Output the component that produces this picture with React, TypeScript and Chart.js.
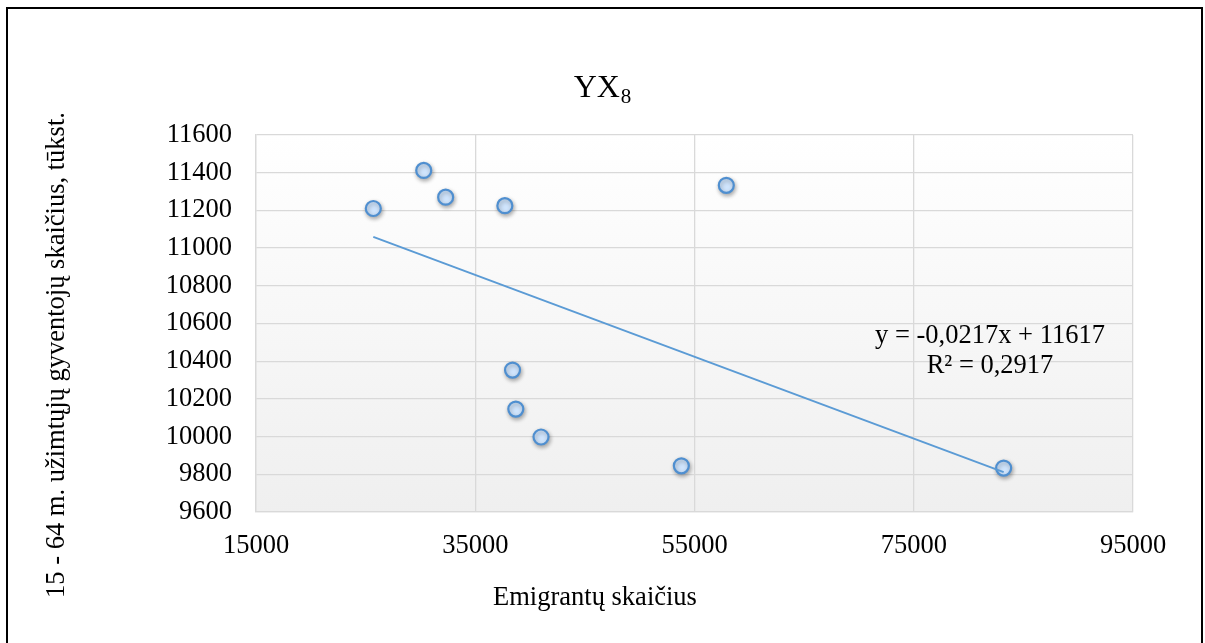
import React, { useEffect, useRef } from "react";
import { Chart, registerables } from "chart.js";

Chart.register(...registerables);

const emigrants = [25700, 30300, 32300, 37700, 57900, 38400, 38700, 41000, 53800, 83200];
const employed = [11210, 11412, 11270, 11225, 11333, 10353, 10146, 9998, 9845, 9833];
const xTicks = [15000, 35000, 55000, 75000, 95000];
const yTicks = [9600, 9800, 10000, 10200, 10400, 10600, 10800, 11000, 11200, 11400, 11600];
const trendSlope = -0.0217;
const trendIntercept = 11617;
const equationLines = ["y = -0,0217x + 11617", "R² = 0,2917"];
const titleMain = "YX";
const titleSub = "8";
const xTitle = "Emigrantų skaičius";
const yTitle = "15 - 64 m. užimtųjų gyventojų skaičius, tūkst.";

const FONT = "'Liberation Serif', 'Times New Roman', serif";

export default function App() {
  const ref = useRef<HTMLCanvasElement | null>(null);

  useEffect(() => {
    if (!ref.current) return;
    const xMin = Math.min(...emigrants);
    const xMax = Math.max(...emigrants);
    const trend = [
      { x: xMin, y: trendSlope * xMin + trendIntercept },
      { x: xMax, y: trendSlope * xMax + trendIntercept },
    ];
    const points = emigrants.map((x, i) => ({ x, y: employed[i] }));

    const bgPlugin = {
      id: "bgPlugin",
      beforeDraw(chart: any) {
        const { ctx, chartArea: a } = chart;
        const g = ctx.createLinearGradient(0, a.top, 0, a.bottom);
        g.addColorStop(0, "#ffffff");
        g.addColorStop(1, "#efefef");
        ctx.save();
        ctx.fillStyle = g;
        ctx.fillRect(a.left, a.top, a.right - a.left, a.bottom - a.top);
        ctx.restore();
      },
      beforeDatasetDraw(chart: any, args: any) {
        if (args.index === 1) {
          const ctx = chart.ctx;
          ctx.save();
          ctx.shadowColor = "rgba(0,0,0,0.3)";
          ctx.shadowBlur = 4;
          ctx.shadowOffsetX = 1;
          ctx.shadowOffsetY = 2;
        }
      },
      afterDatasetDraw(chart: any, args: any) {
        if (args.index === 1) chart.ctx.restore();
      },
      afterDraw(chart: any) {
        const ctx = chart.ctx;
        ctx.save();
        ctx.fillStyle = "#000000";
        ctx.textBaseline = "alphabetic";
        ctx.font = `32px ${FONT}`;
        const wMain = ctx.measureText(titleMain).width;
        ctx.font = `21px ${FONT}`;
        const wSub = ctx.measureText(titleSub).width;
        const startX = 594 - (wMain + wSub) / 2;
        ctx.textAlign = "left";
        ctx.font = `32px ${FONT}`;
        ctx.fillText(titleMain, startX, 88);
        ctx.font = `21px ${FONT}`;
        ctx.fillText(titleSub, startX + wMain + 1, 94);
        ctx.font = `26.5px ${FONT}`;
        ctx.textAlign = "center";
        ctx.textBaseline = "middle";
        ctx.fillText(xTitle, 587, 589);
        ctx.save();
        ctx.translate(49, 346);
        ctx.rotate(-Math.PI / 2);
        ctx.fillText(yTitle, 0, 0);
        ctx.restore();
        ctx.textBaseline = "alphabetic";
        ctx.fillText(equationLines[0], 982, 334);
        ctx.fillText(equationLines[1], 982, 364);
        ctx.restore();
      },
    };

    const chart = new Chart(ref.current, {
      type: "scatter",
      data: {
        datasets: [
          {
            type: "line",
            label: "Trend",
            data: trend,
            borderColor: "#5b9bd5",
            borderWidth: 2,
            pointRadius: 0,
            fill: false,
          } as any,
          {
            label: "Data",
            data: points,
            backgroundColor: "#cfe4fc",
            borderColor: "#4f8fd0",
            borderWidth: 2.2,
            pointRadius: 7.5,
            pointHoverRadius: 7.5,
          },
        ],
      },
      options: {
        animation: false,
        responsive: false,
        maintainAspectRatio: false,
        layout: { padding: { left: 0, top: 126, right: 68, bottom: 0 } },
        plugins: {
          legend: { display: false },
          tooltip: { enabled: false },
          title: { display: false },
        },
        scales: {
          x: {
            type: "linear",
            min: 15000,
            max: 95000,
            afterBuildTicks(scale: any) {
              scale.ticks = xTicks.map((v) => ({ value: v }));
            },
            afterFit(scale: any) {
              scale.height = 137;
            },
            ticks: {
              font: { family: FONT, size: 26.5 },
              color: "#000000",
              padding: 18,
              maxRotation: 0,
              autoSkip: false,
              callback: (v: any) => String(v),
            },
            grid: { color: "#d9d9d9", lineWidth: 1.3, drawTicks: false },
            border: { display: true, color: "#d9d9d9", width: 1.3 },
          },
          y: {
            type: "linear",
            min: 9600,
            max: 11600,
            afterBuildTicks(scale: any) {
              scale.ticks = yTicks.map((v) => ({ value: v }));
            },
            afterFit(scale: any) {
              scale.width = 248;
            },
            ticks: {
              font: { family: FONT, size: 26.5 },
              color: "#000000",
              padding: 24,
              autoSkip: false,
              callback: (v: any) => String(v),
            },
            grid: { color: "#d9d9d9", lineWidth: 1.3, drawTicks: false },
            border: { display: true, color: "#d9d9d9", width: 1.3 },
          },
        },
      },
      plugins: [bgPlugin],
    });
    return () => chart.destroy();
  }, []);

  return (
    <div
      style={{
        position: "absolute",
        left: 6,
        top: 7,
        width: 1197,
        height: 660,
        boxSizing: "border-box",
        border: "2px solid #000",
        borderBottom: "none",
        background: "#fff",
      }}
    >
      <canvas ref={ref} width={1193} height={640} style={{ display: "block", width: 1193, height: 640 }} />
    </div>
  );
}
